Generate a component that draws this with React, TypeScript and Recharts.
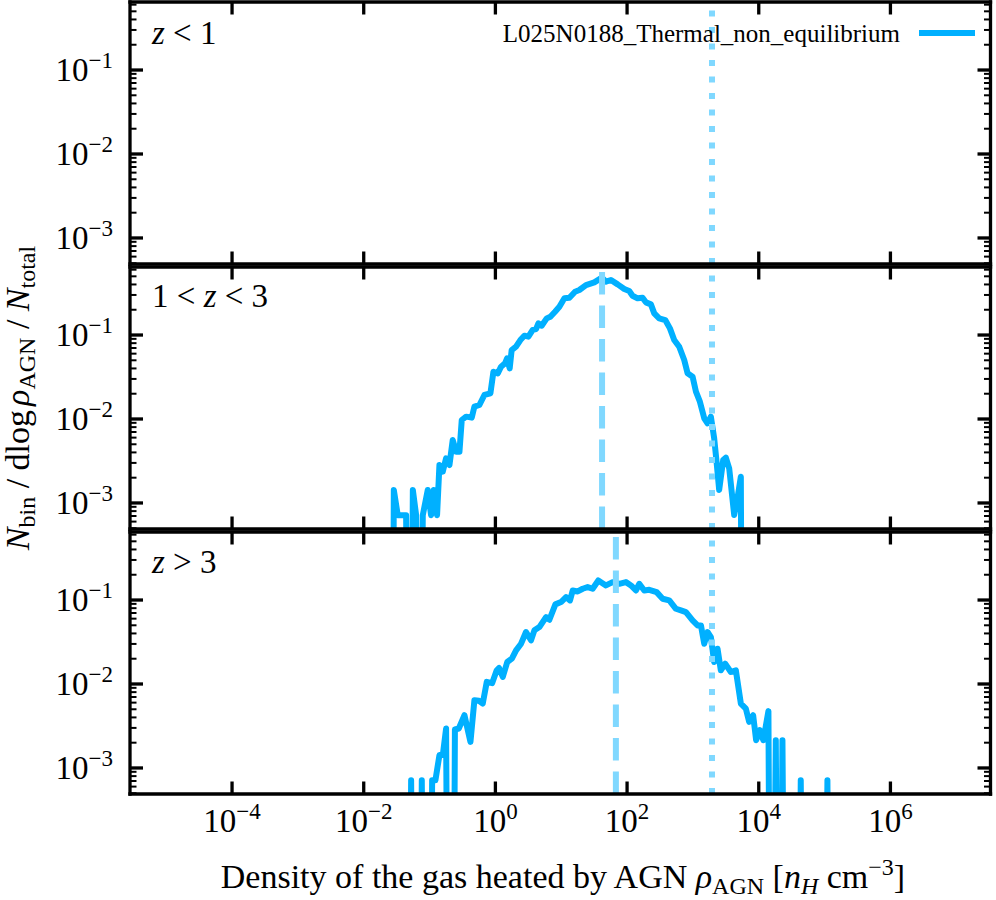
import React from 'react';
import { LineChart, Line, XAxis, YAxis, ReferenceLine, Legend } from 'recharts';

// ---------------- styling constants ----------------
const FONT = '"Liberation Serif", "Times New Roman", Times, serif';
const MAIN_COLOR = '#00B0FF';
const LIGHT_COLOR = '#80D8FF';
const SERIES_NAME = 'L025N0188_Thermal_non_equilibrium';

// ---------------- axes (log10 limits and tick exponents) ----------------
const xLimLog = [-5.55, 7.52];
const yLimLog = [-3.31, -0.19];
const xTickExps = [-4, -2, 0, 2, 4, 6];
const yTickExps = [-3, -2, -1];

// ---------------- panel labels ----------------
const panelLabelParts: [string, string, string][] = [
  ['', 'z', ' < 1'],
  ['1 < ', 'z', ' < 3'],
  ['', 'z', ' > 3'],
];

// ---------------- data (log10 density, log10 fraction; null = empty bin) ----------------
// panel 1: z < 1  -> no heated gas
const p1LogDensity: number[] = [];
const p1LogFrac: (number | null)[] = [];

// panel 2: 1 < z < 3
const p2LogDensity = [
  -1.574, -1.543, -1.483, -1.420, -1.356, -1.300, -1.254, -1.204, -1.153, -1.103,
  -1.027, -0.977, -0.936, -0.886, -0.850, -0.800, -0.749, -0.698, -0.648, -0.597,
  -0.546, -0.511, -0.445, -0.359, -0.319, -0.243, -0.167, -0.076, -0.030, 0.036,
  0.086, 0.146, 0.177, 0.217, 0.247, 0.313, 0.379, 0.440, 0.501, 0.567,
  0.617, 0.653, 0.703, 0.779, 0.835, 0.906, 0.972, 1.048, 1.124, 1.210,
  1.275, 1.376, 1.502, 1.618, 1.679, 1.755, 1.857, 1.958, 2.033, 2.083,
  2.159, 2.235, 2.286, 2.362, 2.413, 2.488, 2.580, 2.651, 2.716, 2.792,
  2.868, 2.919, 2.995, 3.046, 3.106, 3.172, 3.222, 3.273, 3.323, 3.359,
  3.399, 3.460, 3.500, 3.551, 3.627, 3.677, 3.728, 3.760,
];
const p2LogFrac: (number | null)[] = [
  null, -2.845, -3.146, -3.146, -3.146, null, -2.845, -3.146, null, -3.146,
  -2.845, -3.146, -2.845, -3.146, -2.548, -2.627, -2.468, -2.548, -2.250, -2.389,
  -2.389, -2.012, -1.972, -1.984, -1.853, -1.833, -1.714, -1.694, -1.437, -1.456,
  -1.377, -1.337, -1.278, -1.397, -1.179, -1.139, -1.060, -1.008, -1.020, -0.940,
  -0.929, -0.861, -0.889, -0.802, -0.782, -0.722, -0.663, -0.563, -0.556, -0.484,
  -0.464, -0.405, -0.373, -0.317, -0.365, -0.345, -0.397, -0.452, -0.476, -0.532,
  -0.563, -0.556, -0.611, -0.635, -0.742, -0.802, -0.822, -0.921, -1.060, -1.139,
  -1.298, -1.456, -1.496, -1.675, -1.794, -1.992, -2.052, -1.972, -2.230, -2.508,
  -2.845, -2.488, -2.460, -2.587, -3.143, -2.944, -2.687, null,
];

// panel 3: z > 3
const p3LogDensity = [
  -1.330, -1.280, -1.230, -1.165, -1.118, -1.065, -1.010, -0.961, -0.911, -0.850,
  -0.799, -0.749, -0.700, -0.655, -0.615, -0.556, -0.470, -0.379, -0.319, -0.250,
  -0.192, -0.131, -0.050, 0.020, 0.056, 0.112, 0.180, 0.250, 0.314, 0.390,
  0.465, 0.541, 0.592, 0.668, 0.769, 0.820, 0.911, 0.997, 1.073, 1.133,
  1.174, 1.250, 1.326, 1.401, 1.477, 1.563, 1.679, 1.780, 1.882, 1.983,
  2.059, 2.135, 2.185, 2.261, 2.337, 2.449, 2.540, 2.641, 2.742, 2.818,
  2.894, 2.995, 3.071, 3.122, 3.172, 3.222, 3.273, 3.323, 3.374, 3.424,
  3.490, 3.576, 3.652, 3.728, 3.804, 3.854, 3.915, 3.960, 4.016, 4.070,
  4.147, 4.190, 4.259, 4.310, 4.360, 4.420, 4.580, 4.638, 4.700, 4.980,
  5.043, 5.100,
];
const p3LogFrac: (number | null)[] = [
  null, -3.146, null, null, -3.146, null, null, -3.146, -3.146, -2.847,
  -2.847, -2.530, null, null, -2.542, -2.530, -2.372, -2.689, -2.193, -2.200,
  -2.233, -1.975, -1.990, -1.837, -1.810, -1.916, -1.738, -1.698, -1.599, -1.520,
  -1.381, -1.480, -1.361, -1.322, -1.203, -1.235, -1.052, -1.024, -0.965, -1.005,
  -0.886, -0.898, -0.866, -0.846, -0.866, -0.767, -0.826, -0.787, -0.807, -0.787,
  -0.826, -0.886, -0.807, -0.886, -0.878, -0.906, -0.985, -1.005, -1.104, -1.124,
  -1.144, -1.243, -1.302, -1.302, -1.520, -1.381, -1.441, -1.738, -1.580, -1.837,
  -1.758, -1.857, -1.837, -2.233, -2.293, -2.451, -2.372, -2.669, -2.550, -2.669,
  -2.323, null, -2.669, null, -2.669, null, null, -3.146, null, null,
  -3.146, null,
];

// median (dashed) per panel and threshold (dotted), log10 density
const medianLog: (number | null)[] = [null, 1.62, 1.83];
const thresholdLog = 3.29;

// ---------------- layout ----------------
const W = 996;
const PLOT_LEFT = 130;
const PLOT_RIGHT = 990.5;
const PANEL_TOP = [2, 267, 532];
const PANEL_H = 262;
const MT = 20;
const TOP_AXIS_H = 1;
const EMPTY_FLOOR = 1e-9; // empty bins are clipped far below the axis, like matplotlib's log clipping

const FS = 33;
const FS_SUB = 23;

type Row = { x: number; y: number };
const buildRows = (lx: number[], ly: (number | null)[]): Row[] =>
  lx.map((v, i) => ({ x: Math.pow(10, v), y: ly[i] === null || ly[i] === undefined ? EMPTY_FLOOR : Math.pow(10, ly[i] as number) }));

const panelRows: Row[][] = [
  buildRows(p1LogDensity, p1LogFrac),
  buildRows(p2LogDensity, p2LogFrac),
  buildRows(p3LogDensity, p3LogFrac),
];

const xDomain = [Math.pow(10, xLimLog[0]), Math.pow(10, xLimLog[1])];
const yDomain = [Math.pow(10, yLimLog[0]), Math.pow(10, yLimLog[1])];
const xTicks = xTickExps.map((e) => Math.pow(10, e));
const yTicks: number[] = [];
for (let k = -4; k <= 0; k++) {
  for (let m = 1; m <= 9; m++) {
    const v = m * Math.pow(10, k);
    const lv = Math.log10(v);
    if (lv >= yLimLog[0] && lv <= yLimLog[1]) yTicks.push(v);
  }
}

const isMajor = (v: number) => {
  const l = Math.log10(v);
  return Math.abs(l - Math.round(l)) < 1e-6;
};
const expText = (v: number) => {
  const e = Math.round(Math.log10(v));
  return e < 0 ? '\u2212' + Math.abs(e) : String(e);
};

const spine = { stroke: '#000', strokeWidth: 3.3, strokeLinecap: 'square' as const };

const YTickLeft = (props: any) => {
  const { x, y, payload } = props;
  const v = payload.value;
  const major = isMajor(v);
  return (
    <g>
      <line x1={x} x2={x + (major ? 13 : 6.5)} y1={y} y2={y} stroke="#000" strokeWidth={major ? 3.3 : 2} />
      {major && (
        <text x={x - 17} y={y + 11} textAnchor="end" fontFamily={FONT} fontSize={FS} fill="#000">
          10
          <tspan dy={-13} fontSize={FS_SUB}>
            {expText(v)}
          </tspan>
        </text>
      )}
    </g>
  );
};

const YTickRight = (props: any) => {
  const { x, y, payload } = props;
  const major = isMajor(payload.value);
  return (
    <line x1={x} x2={x - (major ? 13 : 6.5)} y1={y} y2={y} stroke="#000" strokeWidth={major ? 3.3 : 2} />
  );
};

const makeXTickBottom = (showLabel: boolean) => (props: any) => {
  const { x, y, payload } = props;
  return (
    <g>
      <line x1={x} x2={x} y1={y} y2={y - 12.5} stroke="#000" strokeWidth={3.3} />
      {showLabel && (
        <text x={x} y={y + 38} textAnchor="middle" fontFamily={FONT} fontSize={FS} fill="#000">
          10
          <tspan dy={-13} fontSize={FS_SUB}>
            {expText(payload.value)}
          </tspan>
        </text>
      )}
    </g>
  );
};

const XTickTop = (props: any) => {
  const { x, y } = props;
  return <line x1={x} x2={x} y1={y} y2={y + 12.5} stroke="#000" strokeWidth={3.3} />;
};

const LegendBox = (props: any) => {
  const entry = (props.payload && props.payload[0]) || { value: SERIES_NAME, color: MAIN_COLOR };
  return (
    <svg width={W} height={70} style={{ display: 'block' }}>
      <text x={900} y={42} textAnchor="end" fontFamily={FONT} fontSize={25} fill="#000">
        {entry.value}
      </text>
      <line x1={919} x2={975} y1={33} y2={33} stroke={entry.color || MAIN_COLOR} strokeWidth={6} />
    </svg>
  );
};

const Panel = ({ idx }: { idx: number }) => {
  const isBottom = idx === 2;
  const MB = isBottom ? 110 : 20;
  const rows = panelRows[idx];
  const med = medianLog[idx];
  return (
    <div style={{ position: 'absolute', left: 0, top: PANEL_TOP[idx] - MT }}>
      <LineChart
        width={W}
        height={MT + PANEL_H + MB}
        data={rows}
        margin={{ top: MT - TOP_AXIS_H, right: 0, bottom: 0, left: 0 }}
      >
        <XAxis
          dataKey="x"
          type="number"
          scale="log"
          domain={xDomain}
          allowDataOverflow
          ticks={xTicks}
          interval={0}
          height={MB}
          tickSize={0}
          tickMargin={0}
          tickLine={false}
          axisLine={spine}
          tick={makeXTickBottom(isBottom)}
        />
        <XAxis
          xAxisId="top"
          orientation="top"
          dataKey="x"
          type="number"
          scale="log"
          domain={xDomain}
          allowDataOverflow
          ticks={xTicks}
          interval={0}
          height={TOP_AXIS_H}
          tickSize={0}
          tickMargin={0}
          tickLine={false}
          axisLine={spine}
          tick={XTickTop}
        />
        <YAxis
          type="number"
          scale="log"
          domain={yDomain}
          allowDataOverflow
          ticks={yTicks}
          interval={0}
          width={PLOT_LEFT}
          tickSize={0}
          tickMargin={0}
          tickLine={false}
          axisLine={spine}
          tick={YTickLeft}
        />
        <YAxis
          yAxisId="right"
          orientation="right"
          type="number"
          scale="log"
          domain={yDomain}
          allowDataOverflow
          ticks={yTicks}
          interval={0}
          width={W - PLOT_RIGHT}
          tickSize={0}
          tickMargin={0}
          tickLine={false}
          axisLine={spine}
          tick={YTickRight}
        />
        <Line
          type="linear"
          dataKey="y"
          name={SERIES_NAME}
          stroke={MAIN_COLOR}
          strokeWidth={6}
          strokeLinejoin="round"
          dot={false}
          activeDot={false}
          isAnimationActive={false}
          legendType="line"
        />
        {med !== null && (
          <ReferenceLine
            x={Math.pow(10, med)}
            stroke={LIGHT_COLOR}
            strokeWidth={6}
            strokeDasharray="22.5 11"
          />
        )}
        <ReferenceLine
          x={Math.pow(10, thresholdLog)}
          stroke={LIGHT_COLOR}
          strokeWidth={6}
          strokeDasharray="6 10.5"
        />
        {idx === 0 && (
          <Legend
            layout="horizontal"
            verticalAlign="middle"
            align="center"
            wrapperStyle={{ position: 'absolute', left: 0, top: MT - PANEL_TOP[0], width: W, height: 70 }}
            content={LegendBox}
          />
        )}
      </LineChart>
    </div>
  );
};

export default function App() {
  const labelBaselines = [44, 307, 573];
  return (
    <div style={{ position: 'absolute', left: 0, top: 0, width: W, height: 900, background: '#fff', overflow: 'hidden' }}>
      <Panel idx={0} />
      <Panel idx={1} />
      <Panel idx={2} />
      <svg width={W} height={900} style={{ position: 'absolute', left: 0, top: 0, pointerEvents: 'none' }}>
        {panelLabelParts.map((p, i) => (
          <text key={i} x={152} y={labelBaselines[i]} fontFamily={FONT} fontSize={FS} fill="#000">
            {p[0]}
            <tspan fontStyle="italic">{p[1]}</tspan>
            {p[2]}
          </text>
        ))}
        <text x={563} y={888} textAnchor="middle" fontFamily={FONT} fontSize={34} fill="#000">
          {'Density of the gas heated by AGN '}
          <tspan fontStyle="italic">ρ</tspan>
          <tspan fontSize={24} dy={6}>AGN</tspan>
          <tspan dy={-6}>{' ['}</tspan>
          <tspan fontStyle="italic">n</tspan>
          <tspan fontStyle="italic" fontSize={24} dy={6}>H</tspan>
          <tspan dy={-6}>{' cm'}</tspan>
          <tspan fontSize={24} dy={-13}>{'\u22123'}</tspan>
          <tspan dy={13}>]</tspan>
        </text>
        <text transform="translate(29,398) rotate(-90)" textAnchor="middle" fontFamily={FONT} fontSize={34} fill="#000">
          <tspan fontStyle="italic">N</tspan>
          <tspan fontSize={24} dy={6}>bin</tspan>
          <tspan dy={-6}>{' / dlog'}</tspan>
          <tspan fontStyle="italic" dx={4}>ρ</tspan>
          <tspan fontSize={24} dy={6}>AGN</tspan>
          <tspan dy={-6}>{' / '}</tspan>
          <tspan fontStyle="italic">N</tspan>
          <tspan fontSize={24} dy={6}>total</tspan>
        </text>
      </svg>
    </div>
  );
}
